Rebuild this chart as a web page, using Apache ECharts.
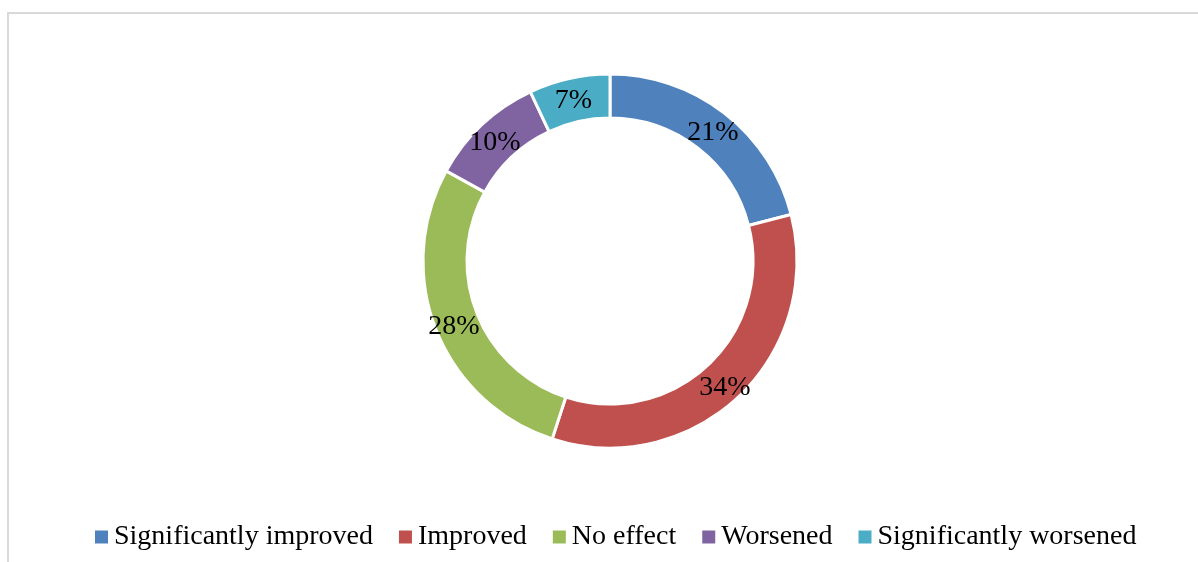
<!DOCTYPE html>
<html>
<head>
<meta charset="utf-8">
<script src="https://cdn.jsdelivr.net/npm/echarts@6/dist/echarts.min.js"></script>
<style>
html,body{margin:0;padding:0;background:#fff;}
#c{width:1198px;height:562px;}
</style>
</head>
<body>
<div id="c"></div>
<script>
var categories = ['Significantly improved', 'Improved', 'No effect', 'Worsened', 'Significantly worsened'];
var values = [21, 34, 28, 10, 7];
var colors = ['#4F81BD', '#C0504D', '#9BBB59', '#8064A2', '#4BACC6'];

var chart = echarts.init(document.getElementById('c'), null, {renderer: 'canvas'});
var data = categories.map(function (name, i) {
  return {name: name, value: values[i], itemStyle: {color: colors[i]}};
});
chart.setOption({
  animation: false,
  textStyle: {fontFamily: '"Liberation Serif", "Times New Roman", serif'},
  graphic: [{
    type: 'rect',
    silent: true,
    shape: {x: 8, y: 13, width: 1210, height: 600},
    style: {fill: 'none', stroke: '#d9d9d9', lineWidth: 2}
  }],
  legend: {
    bottom: 6,
    left: 88,
    padding: [5, 5],
    itemWidth: 15,
    itemHeight: 15,
    itemGap: 24,
    icon: 'rect',
    textStyle: {fontSize: 28, color: '#000', fontFamily: '"Liberation Serif", "Times New Roman", serif'},
    data: categories
  },
  series: [{
    type: 'pie',
    center: [610, 261],
    radius: [143, 187],
    startAngle: 90,
    clockwise: true,
    itemStyle: {borderColor: '#fff', borderWidth: 3},
    label: {
      position: 'inside',
      formatter: '{d}%',
      fontSize: 28,
      color: '#000',
      offset: [0, 4],
      fontFamily: '"Liberation Serif", "Times New Roman", serif'
    },
    labelLine: {show: false},
    emphasis: {disabled: true},
    data: data
  }]
});
</script>
</body>
</html>
